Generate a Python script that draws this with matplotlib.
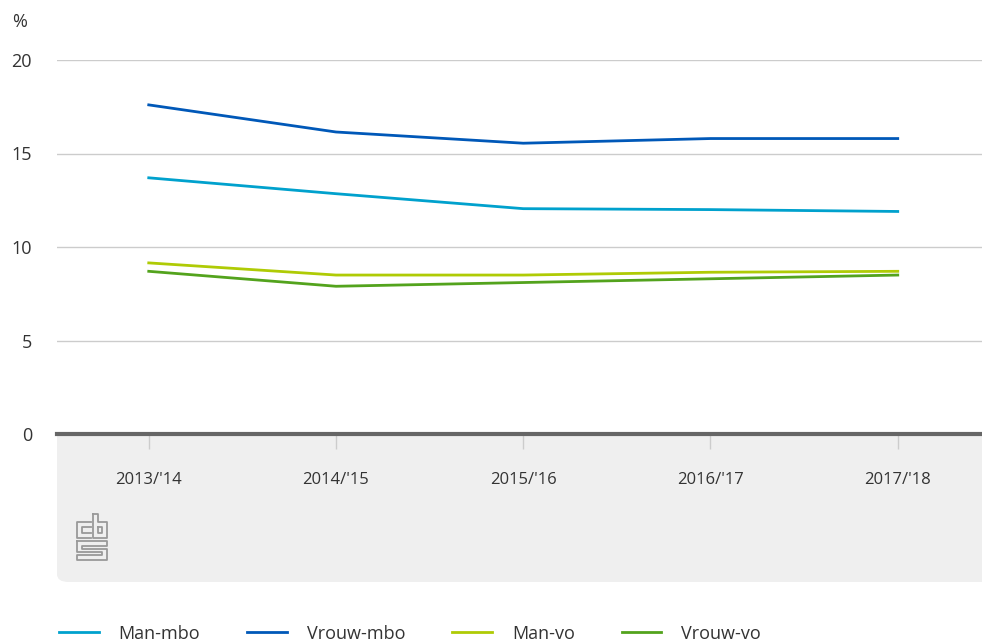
import matplotlib
matplotlib.use("Agg")
import matplotlib.pyplot as plt
from matplotlib.patches import FancyBboxPatch, Rectangle
from matplotlib.lines import Line2D

plt.rcParams['font.family'] = ['Open Sans', 'DejaVu Sans']

## Data
years = ["2013/'14", "2014/'15", "2015/'16", "2016/'17", "2017/'18"]
man_mbo = [13.7, 12.85, 12.05, 12.0, 11.9]
vrouw_mbo = [17.6, 16.15, 15.55, 15.8, 15.8]
man_vo = [9.15, 8.5, 8.5, 8.65, 8.7]
vrouw_vo = [8.7, 7.9, 8.1, 8.3, 8.5]

series = [("Man-mbo", man_mbo, "#00a1cd"),
          ("Vrouw-mbo", vrouw_mbo, "#0058b8"),
          ("Man-vo", man_vo, "#afcb05"),
          ("Vrouw-vo", vrouw_vo, "#53a31d")]

W, H = 982, 644
fig = plt.figure(figsize=(W / 100, H / 100), dpi=100)

def fx(px):
    return px / W

def fy(py):
    return 1 - py / H

# gray band under the x axis
band = FancyBboxPatch((fx(57), fy(582)), fx(1000 - 57), fy(434) - fy(582),
                      boxstyle="round,pad=0,rounding_size=0.012",
                      transform=fig.transFigure, facecolor="#efefef",
                      edgecolor="none", zorder=0)
fig.patches.append(band)
fig.patches.append(Rectangle((fx(57), fy(480)), fx(1000 - 57), fy(434) - fy(480),
                             transform=fig.transFigure, facecolor="#efefef",
                             edgecolor="none", zorder=0))

ax = fig.add_axes([fx(57), fy(434), 1 - fx(57), fy(60) - fy(434)])
ax.set_zorder(2)
ax.set_facecolor("none")
x = list(range(len(years)))
for name, vals, col in series:
    ax.plot(x, vals, color=col, lw=2, label=name, clip_on=False, zorder=3)

ax.set_ylim(0, 20)
ax.set_xlim(-0.49, 4.45)
ax.set_yticks([0, 5, 10, 15, 20])
ax.set_yticklabels(["0", "5", "10", "15", "20"])
ax.grid(axis="y", color="#cccccc", lw=1)
ax.tick_params(axis="y", length=0, pad=18, labelsize=13, colors="#333333")
for s in ax.spines.values():
    s.set_visible(False)
ax.axhline(0, color="#666666", lw=3, zorder=4, clip_on=False)
ax.set_xticks(x)
ax.set_xticklabels(years)
ax.tick_params(axis="x", length=11, width=1, color="#cccccc", pad=16,
               labelsize=12, labelcolor="#333333")

fig.text(fx(12), fy(22), "%", fontsize=13, color="#333333", va="center")

# cbs logo (rough)
logo = [
    [(91, 522), (77, 522), (77, 538), (91, 538)],
    [(91, 527), (82, 527), (82, 533), (91, 533)],
    [(93, 514), (93, 538), (107, 538), (107, 522), (98, 522), (98, 514), (93, 514)],
    [(98, 527), (102, 527), (102, 533), (98, 533), (98, 527)],
    [(77, 541), (107, 541), (107, 546), (82, 546), (82, 549), (107, 549),
     (107, 560), (77, 560), (77, 555), (102, 555), (102, 552), (77, 552), (77, 541)],
]
for path in logo:
    fig.lines.append(Line2D([fx(p[0]) for p in path], [fy(p[1]) for p in path],
                            transform=fig.transFigure, color="#999999", lw=1.3))

handles = [Line2D([], [], color=c, lw=2) for _, _, c in series]
fig.legend(handles, [n for n, _, _ in series], loc="lower left",
           bbox_to_anchor=(fx(50), -0.012), ncol=4, frameon=False, fontsize=13,
           handlelength=2.2, handletextpad=1.1, columnspacing=2.6,
           labelcolor="#333333", borderaxespad=0.1)

fig.savefig("out.png", dpi=100)
